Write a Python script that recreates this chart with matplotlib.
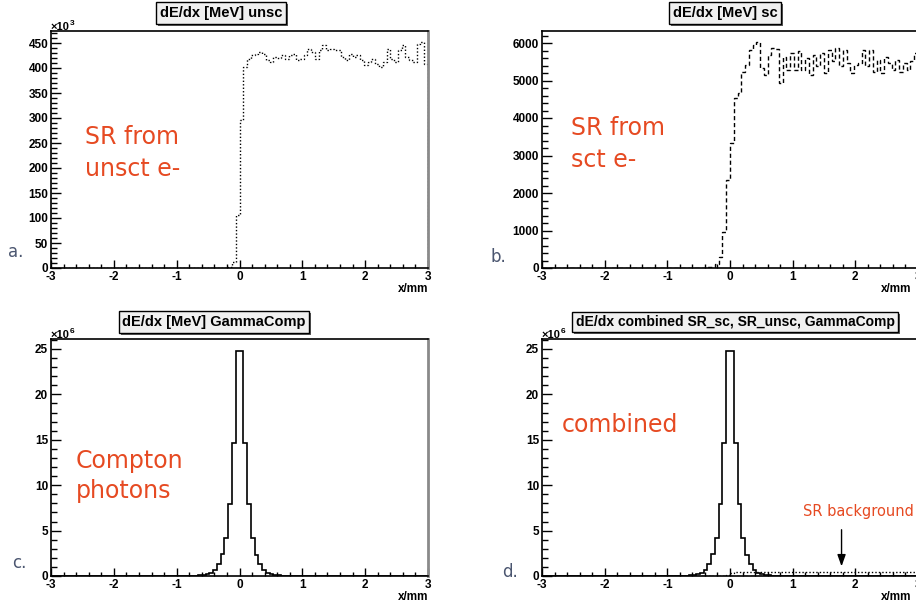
import numpy as np
import matplotlib
matplotlib.use('Agg')
import matplotlib.pyplot as plt
from matplotlib.ticker import MultipleLocator
from matplotlib.patches import Rectangle
from matplotlib.transforms import IdentityTransform

# ---------------- data ----------------
x_range = (-3.0, 3.0)
n_bins = 100

# SR from unscattered e- (x10^3), first bin starts at unsc_x0
unsc_x0 = -0.18
unsc_vals = [2, 12, 106, 297, 403,
             419, 426, 429, 433, 429, 416, 413, 423, 421, 426, 419, 426,
             429, 416, 419, 426, 439, 433, 419, 436, 446, 436, 439, 436,
             436, 423, 416, 429, 423, 426, 416, 406, 413, 419, 409, 403,
             413, 439, 419, 413, 436, 446, 423, 416, 413, 449, 453, 409]

# SR from scattered e-
sc_x0 = -0.36
sc_vals = [30, 40, 110, 300, 970, 2350, 3330, 4530, 4660, 5240, 5420, 5820,
           5950, 6020, 5330, 5150, 5690, 5865, 5840, 4930,
           5640, 5290, 5730, 5290, 5780, 5290, 5600, 5150, 5690, 5380,
           5730, 5200, 5820, 5510, 5865, 5380, 5820, 5460, 5200, 5420,
           5460, 5820, 5380, 5820, 5240, 5550, 5200, 5640, 5460, 5290,
           5550, 5240, 5460, 5290, 5510, 5730]

# Compton photons (x10^6)
comp_x0 = -0.72
comp_vals = [0.05, 0.08, 0.12, 0.2, 0.36, 0.7, 1.3, 2.4, 4.2, 7.9, 14.6, 24.8,
             24.8, 14.7, 7.9, 4.2, 2.3, 1.3, 0.7, 0.37, 0.2, 0.12, 0.08, 0.05]

titles = ["dE/dx [MeV] unsc", "dE/dx [MeV] sc", "dE/dx [MeV] GammaComp",
          "dE/dx combined SR_sc, SR_unsc, GammaComp"]
y_tops = [474, 6320, 26.1, 26.1]
y_major = [50, 1000, 5, 5]
y_minor = [10, 200, 1, 1]
exponents = ["3", None, "6", "6"]

# ---------------- helpers ----------------
edges = np.linspace(x_range[0], x_range[1], n_bins + 1)
bw = edges[1] - edges[0]


def full_hist(x0, vals):
    h = np.zeros(n_bins)
    i0 = int(round((x0 - x_range[0]) / bw))
    h[i0:i0 + len(vals)] = vals
    return h


h_unsc = full_hist(unsc_x0, unsc_vals)
h_sc = full_hist(sc_x0, sc_vals)
h_comp = full_hist(comp_x0, comp_vals)

plt.rcParams['font.family'] = ['Liberation Sans', 'DejaVu Sans']
plt.rcParams['font.weight'] = 'bold'
plt.rcParams['axes.unicode_minus'] = False

W, H = 916, 603
fig = plt.figure(figsize=(W / 100, H / 100), dpi=100)


def fx(px):
    return px / W


def fy(py):
    return 1 - py / H


def make_axes(l, t, r, b):
    return fig.add_axes([fx(l), fy(b), fx(r) - fx(l), fy(t) - fy(b)])


boxes = [(51, 31, 428, 268), (542, 31, 918, 268),
         (51, 339, 428, 576), (542, 339, 918, 576)]
axes = [make_axes(*b) for b in boxes]

for i, ax in enumerate(axes):
    ax.set_xlim(*x_range)
    ax.set_ylim(0, y_tops[i])
    ax.xaxis.set_major_locator(MultipleLocator(1))
    ax.xaxis.set_minor_locator(MultipleLocator(0.2))
    ax.yaxis.set_major_locator(MultipleLocator(y_major[i]))
    ax.yaxis.set_minor_locator(MultipleLocator(y_minor[i]))
    ax.tick_params(axis='both', which='both', direction='in', top=False,
                   right=False, labelsize=8.5, colors='black')
    ax.tick_params(axis='y', which='major', length=7, width=1, pad=2)
    ax.tick_params(axis='y', which='minor', length=4, width=1)
    ax.tick_params(axis='x', which='major', length=6, width=1, pad=2)
    ax.tick_params(axis='x', which='minor', length=3, width=1)
    for s in ['left', 'bottom', 'top']:
        ax.spines[s].set_linewidth(1.2)
        ax.spines[s].set_color('black')
    ax.spines['right'].set_linewidth(2)
    ax.spines['right'].set_color('#8a8a8a')
    l, t, r, b = boxes[i]
    # x label
    fig.text(fx(min(r, 911)), fy(b + 24), "x/mm", ha='right', va='baseline',
             fontsize=8.5, weight='bold')
    if exponents[i]:
        fig.text(fx(l), fy(t - 1), "\u00d710", ha='left', va='baseline',
                 fontsize=8, weight='bold')
        fig.text(fx(l + 19), fy(t - 6), exponents[i], ha='left',
                 va='baseline', fontsize=6, weight='bold')

# histograms
axes[0].stairs(h_unsc, edges, color='black', lw=1, linestyle=(0, (1, 1.5)))
axes[1].stairs(h_sc, edges, color='black', lw=1, linestyle=(0, (3, 2)))
axes[2].stairs(h_comp, edges, color='black', lw=1.2)
axes[3].stairs(h_comp, edges, color='black', lw=1.2)
axes[3].stairs(h_unsc / 1000.0, edges, color='black', lw=1,
               linestyle=(0, (1, 1.5)))
axes[3].stairs(h_sc / 1e6, edges, color='black', lw=1, linestyle=(0, (3, 2)))

# title boxes
title_pos = [(221, 13), (725, 13), (214, 322), (735, 322)]
title_fs = [10.5, 10.5, 10.5, 10]
title_texts = []
for (cx, cy), t, fs in zip(title_pos, titles, title_fs):
    tt = fig.text(fx(cx), fy(cy), t, ha='center', va='center', fontsize=fs,
                  weight='bold', color='black', zorder=5,
                  bbox=dict(boxstyle='square,pad=0.25', fc='#f0f0f0',
                            ec='black', lw=1))
    title_texts.append(tt)

fig.canvas.draw()
for tt in title_texts:
    bb = tt.get_bbox_patch().get_window_extent()
    shadow = Rectangle((bb.x0 + 2, bb.y0 - 2), bb.width, bb.height,
                       transform=IdentityTransform(), fc='#5a5a5a', ec='none',
                       zorder=4)
    fig.add_artist(shadow)

# red annotations
red = '#e64a22'
big = dict(fontsize=17, color=red, family='DejaVu Sans', weight='normal',
           ha='left', va='baseline')
fig.text(fx(85), fy(144), "SR from", **big)
fig.text(fx(85), fy(176), "unsct e-", **big)
fig.text(fx(571), fy(135), "SR from", **big)
fig.text(fx(571), fy(167), "sct e-", **big)
fig.text(fx(76), fy(468), "Compton", **big)
fig.text(fx(76), fy(498), "photons", **big)
fig.text(fx(562), fy(432), "combined", **big)
fig.text(fx(803), fy(516), "SR background", fontsize=10.5, color=red,
         family='DejaVu Sans', weight='normal', ha='left', va='baseline')

axes[3].annotate("", xy=(1.78, 0.75), xytext=(1.78, 5.4),
                 arrowprops=dict(arrowstyle='-|>,head_width=0.25,head_length=0.7',
                                 color='black', lw=1))

# panel letters
lc = '#4b5670'
letters = [("a.", 8, 257), ("b.", 491, 262), ("c.", 12, 568), ("d.", 502, 577)]
for s, x, y in letters:
    fig.text(fx(x), fy(y), s, fontsize=12, color=lc, family='DejaVu Sans',
             weight='normal', ha='left', va='baseline')

fig.savefig('out.png', dpi=100)
